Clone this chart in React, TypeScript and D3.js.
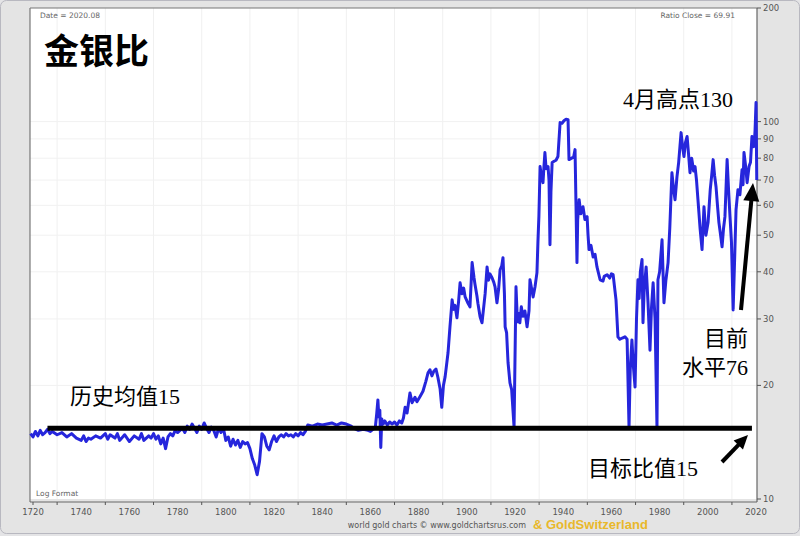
import React from "react";
import * as d3 from "d3";

const years: number[] = [
  1719, 1720, 1721, 1722, 1723, 1724, 1725, 1726, 1727, 1728, 1730, 1732, 1734, 1736, 1738,
  1740, 1741, 1742, 1743, 1744, 1746, 1748, 1750, 1751, 1752, 1754, 1755, 1756, 1758, 1759,
  1760, 1762, 1764, 1765, 1766, 1768, 1769, 1770, 1771, 1772, 1773, 1774, 1775, 1776, 1777,
  1778, 1779, 1780, 1782, 1783, 1784, 1785, 1786, 1787, 1788, 1789, 1790, 1791, 1792, 1793,
  1794, 1795, 1796, 1797, 1798, 1799, 1800, 1801, 1802, 1803, 1804, 1805, 1806, 1807, 1808,
  1809, 1810, 1811, 1812, 1813, 1814, 1815, 1816, 1817, 1818, 1819, 1820, 1821, 1822, 1823,
  1824, 1825, 1826, 1827, 1828, 1829, 1830, 1831, 1832, 1833, 1834, 1836, 1838, 1840, 1842,
  1844, 1846, 1848, 1850, 1852, 1853, 1855, 1857, 1859, 1860, 1861, 1862, 1862.6, 1863.1,
  1863.5, 1863.9, 1864.3, 1864.7, 1865.3, 1866, 1867, 1868, 1869, 1870, 1871, 1872, 1873,
  1873.7, 1874.4, 1875.2, 1876.4, 1877.3, 1878.5, 1879.3, 1880.6, 1881.8, 1883, 1883.9,
  1884.7, 1885.5, 1886.3, 1887.2, 1888, 1888.9, 1889.6, 1890.3, 1891, 1892.2, 1893, 1893.9,
  1894.5, 1895.1, 1895.9, 1896.6, 1897.2, 1898, 1898.7, 1899.3, 1900.5, 1901.3, 1902.2, 1903,
  1903.4, 1904.2, 1904.6, 1905.5, 1906.3, 1907.6, 1908.4, 1909, 1909.6, 1910.5, 1911.2, 1911.7,
  1912.5, 1913.2, 1913.8, 1914.5, 1915, 1915.6, 1915.9, 1916.5, 1917.1, 1917.9, 1918.6, 1919.6,
  1920.4, 1921, 1921.5, 1922, 1922.6, 1923.3, 1924.1, 1925, 1925.8, 1926.2, 1926.9, 1927.5,
  1928.3, 1929.1, 1929.5, 1929.9, 1930.4, 1930.9, 1931.6, 1932, 1932.4, 1932.9, 1933.7, 1934.1,
  1934.5, 1934.9, 1935.4, 1936.2, 1937, 1937.8, 1938.7, 1939.5, 1940.3, 1941.2, 1942, 1942.4,
  1943.5, 1944.3, 1944.9, 1945.3, 1945.7, 1946, 1946.6, 1947.3, 1948.2, 1949, 1949.9, 1950.3,
  1950.7, 1951.5, 1952.4, 1953.2, 1954, 1955.3, 1956.5, 1957, 1958.2, 1959.3, 1960, 1960.7,
  1961.9, 1962.7, 1963.5, 1964.5, 1965.6, 1966.5, 1967.3, 1967.8, 1968.5, 1969.1, 1969.8,
  1970.4, 1971, 1971.5, 1972, 1972.7, 1973.1, 1973.6, 1974.4, 1975.2, 1976, 1976.6, 1977.3,
  1978.1, 1978.9, 1979.3, 1980, 1981, 1981.8, 1982.6, 1983.5, 1984.2, 1985.1, 1985.8, 1986.4,
  1987.2, 1987.9, 1988.9, 1989.5, 1990.1, 1990.7, 1991.4, 1992, 1992.6, 1993.3, 1994.1, 1994.7,
  1995.3, 1995.9, 1996.8, 1997.6, 1998.4, 1999.2, 2000.1, 2001, 2001.6, 2002.2, 2002.8, 2003.4,
  2004, 2004.6, 2005.3, 2005.9, 2006.5, 2007.1, 2008, 2008.6, 2009.2, 2009.8, 2010.5, 2011.2,
  2011.7, 2012.5, 2013.3, 2014.2, 2014.6, 2015, 2015.7, 2016.3, 2017.1, 2017.7, 2018.3, 2018.8,
  2019.2, 2019.6, 2020.0, 2020.3,
];

const ratios: number[] = [
  14.9, 14.6, 15.1, 14.7, 15.2, 14.8, 15.0, 15.3, 14.9, 15.1, 14.8, 15.0, 14.6, 14.9, 14.5,
  14.3, 14.7, 14.2, 14.5, 14.4, 14.7, 14.5, 14.9, 14.4, 14.8, 14.5, 14.9, 14.3, 14.8, 14.5,
  14.2, 14.7, 14.4, 14.9, 14.3, 14.7, 14.5, 14.9, 14.4, 14.7, 14.0, 14.5, 13.6, 14.6, 14.9,
  14.7, 15.2, 15.0, 15.4, 15.0, 15.6, 15.3, 15.8, 15.4, 15.0, 15.6, 15.3, 15.9, 15.4, 15.0,
  15.5, 15.2, 14.6, 15.4, 15.0, 15.4, 14.3, 14.6, 13.8, 14.4, 13.9, 14.3, 13.7, 14.2, 14.0,
  14.1, 13.6, 12.8, 12.3, 11.6, 12.6, 14.9, 14.6, 13.8, 13.5, 14.2, 14.7, 14.2, 14.6, 14.8,
  14.6, 14.9, 14.7, 14.8, 14.6, 14.9, 14.7, 15.0, 14.8, 15.1, 15.7, 15.6, 15.8, 15.7, 15.8,
  15.9, 15.7, 15.9, 15.8, 15.6, 15.4, 15.2, 15.3, 15.2, 15.1, 15.3, 15.4, 16.8, 18.3,
  16.5, 17.2, 13.7, 16.3, 15.8, 16.1, 15.7, 16.0, 15.8, 16.0, 15.7, 16.1, 15.9,
  16.4, 17.5, 16.9, 19.1, 18.0, 18.6, 18.1, 18.7, 19.3, 20.5, 21.6,
  22.0, 21.2, 21.8, 22.1, 21.0, 19.6, 17.5, 20.0, 21.1, 24.4, 28.6, 33.7,
  31.8, 32.6, 30.2, 33.5, 37.4, 35.0, 36.2, 34.3, 33.0, 32.3, 42.3, 38.5,
  37.0, 34.5, 33.0, 30.4, 29.3, 35.0, 41.2, 38.0, 39.5, 38.5, 37.5, 36.5,
  33.1, 36.0, 40.5, 41.5, 43.6, 35.0, 28.6, 27.6, 23.0, 20.3, 19.5, 15.5,
  36.5, 29.5, 31.0, 29.3, 32.3, 30.5, 31.5, 28.6, 31.5, 38.1, 36.0, 34.3,
  36.5, 39.8, 48.0, 56.0, 76.0, 72.0, 68.9, 76.0, 82.8, 75.0, 76.0, 70.0,
  47.2, 65.0, 77.9, 78.5, 79.0, 80.8, 99.4, 99.0, 100.5, 101.5, 101.2, 79.3,
  80.0, 80.5, 84.3, 60.0, 42.3, 55.0, 62.1, 57.0, 59.5, 55.0, 56.0, 50.0,
  45.8, 47.0, 43.8, 44.5, 41.2, 38.1, 37.8, 38.9, 39.3, 38.5, 39.5, 39.3,
  33.7, 26.9, 26.5, 26.7, 26.9, 26.5, 15.5, 22.0, 26.4, 22.5, 19.8,
  30.0, 38.1, 34.0, 40.0, 43.1, 29.3, 36.0, 41.2, 33.0, 24.8, 32.0, 37.4,
  30.0, 15.5, 38.1, 40.0, 48.6, 33.1, 38.0, 42.3, 52.0, 73.2, 66.0, 62.1,
  71.5, 78.0, 93.5, 86.0, 80.8, 88.0, 91.3, 82.0, 73.2, 80.0, 74.0, 76.0,
  70.0, 62.1, 52.0, 45.8, 59.5, 50.0, 54.0, 66.0, 72.0, 79.3, 72.0, 67.2,
  60.0, 54.0, 50.0, 46.6, 52.0, 56.0, 79.3, 66.0, 56.0, 48.0, 31.7, 45.0,
  58.4, 66.0, 64.0, 74.6, 68.0, 82.8, 76.0, 68.9, 76.0, 78.0, 91.3, 85.8,
  86.0, 95.0, 112.3, 70.0,
];

const yTickValues: number[] = [10, 20, 30, 40, 50, 60, 70, 80, 90, 100, 200];
const xLabelYears: number[] = [1720, 1740, 1760, 1780, 1800, 1820, 1840, 1860, 1880, 1900, 1920, 1940, 1960, 1980, 2000, 2020];
const xTickYears: number[] = [1730, 1750, 1770, 1790, 1810, 1830, 1850, 1870, 1890, 1910, 1930, 1950, 1970, 1990, 2010];

const avgLineValue = 15.4;
const avgLineStart = 1726;
const avgLineEnd = 2018.3;

const title = "金银比";
const peakLabel = "4月高点130";
const currentLabel1 = "目前";
const currentLabel2 = "水平76";
const histLabel = "历史均值15";
const targetLabel = "目标比值15";

export default function App() {
  const W = 800;
  const H = 536;
  const left = 30, right = 757, top = 8, bottom = 499;
  const x = d3.scaleLinear().domain([1718.75, 2020.4]).range([left, right]);
  const y = d3.scaleLog().domain([10, 200]).range([bottom, top]);

  const data = years.map((yr, i) => [yr, ratios[i]] as [number, number]);
  const line = d3
    .line<[number, number]>()
    .x((d) => x(d[0]))
    .y((d) => y(d[1]));

  const cjk = "'Liberation Serif', 'Noto Sans CJK SC', serif";
  const axisFont = "'DejaVu Sans', sans-serif";

  const arrow = (x1: number, y1: number, x2: number, y2: number, hl: number, hw: number, sw: number) => {
    const dx = x2 - x1, dy = y2 - y1;
    const len = Math.sqrt(dx * dx + dy * dy);
    const ux = dx / len, uy = dy / len;
    const bx = x2 - ux * hl, by = y2 - uy * hl;
    const px = -uy, py = ux;
    const pts = `${x2},${y2} ${bx + px * hw / 2},${by + py * hw / 2} ${bx - px * hw / 2},${by - py * hw / 2}`;
    return (
      <g>
        <line x1={x1} y1={y1} x2={bx + ux * 2} y2={by + uy * 2} stroke="#000" strokeWidth={sw} />
        <polygon points={pts} fill="#000" />
      </g>
    );
  };

  return (
    <svg width={W} height={H} style={{ position: "absolute", left: 0, top: 0 }}>
      <rect x={0} y={0} width={W} height={H} fill="#e4e4e6" />
      <rect x={0.5} y={0.5} width={W - 1} height={H - 3} rx={6} fill="#e4e4e4" stroke="#b8b8c0" />
      <rect x={left} y={top} width={right - left} height={bottom - top} fill="#ffffff" />
      {/* gridlines */}
      {xTickYears.map((yr) => (
        <line key={"gx" + yr} x1={x(yr)} x2={x(yr)} y1={top} y2={bottom} stroke="#f0f0f0" strokeWidth={1} />
      ))}
      {yTickValues.filter((v) => v > 10 && v < 200).map((v) => (
        <line key={"gy" + v} x1={left} x2={right} y1={y(v)} y2={y(v)} stroke="#f1f1f1" strokeWidth={1} />
      ))}
      {/* frame */}
      <line x1={left} x2={left} y1={top} y2={bottom + 3} stroke="#777" strokeWidth={1.2} />
      <line x1={left} x2={right} y1={top} y2={top} stroke="#777" strokeWidth={1.2} />
      <line x1={right} x2={right} y1={top} y2={bottom + 3} stroke="#666" strokeWidth={1.2} />
      <line x1={left} x2={right} y1={bottom + 3} y2={bottom + 3} stroke="#666" strokeWidth={1.2} />
      {/* y ticks */}
      {yTickValues.map((v) => (
        <g key={"yt" + v}>
          <line x1={right} x2={right + 4} y1={y(v)} y2={y(v)} stroke="#555" />
          <text x={right + 6} y={y(v) + 3} fontSize={8.5} fill="#555" fontFamily={axisFont}>
            {v}
          </text>
        </g>
      ))}
      {/* x ticks */}
      {[1720, ...xTickYears].map((yr) => (
        <line key={"xt" + yr} x1={x(yr)} x2={x(yr)} y1={bottom + 3} y2={bottom + 6} stroke="#555" />
      ))}
      {xLabelYears.map((yr) => (
        <text key={"xl" + yr} x={x(yr)} y={515} fontSize={8.5} fill="#555" textAnchor="middle" fontFamily={axisFont}>
          {yr}
        </text>
      ))}
      {/* series */}
      <path d={line(data) || ""} fill="none" stroke="#2626dc" strokeWidth={3} strokeLinejoin="round" />
      {/* average line */}
      <line x1={x(avgLineStart)} x2={x(avgLineEnd)} y1={y(avgLineValue)} y2={y(avgLineValue)} stroke="#000" strokeWidth={5} />
      {/* small texts */}
      <text x={40} y={18} fontSize={7.5} fill="#666" fontFamily={axisFont}>Date = 2020.08</text>
      <text x={735} y={18} fontSize={7.5} fill="#666" textAnchor="end" fontFamily={axisFont}>Ratio Close = 69.91</text>
      <text x={36} y={496} fontSize={7.5} fill="#666" fontFamily={axisFont}>Log Format</text>
      <text x={526} y={528} fontSize={8} fill="#555" textAnchor="end" fontFamily={axisFont}>world gold charts © www.goldchartsrus.com</text>
      <text x={533} y={529} fontSize={13} fontWeight="bold" fill="#e9b82a" fontFamily="'Liberation Sans', Arial, sans-serif">& GoldSwitzerland</text>
      {/* title & annotations */}
      <text x={44} y={64} fontSize={35} fontWeight="bold" fill="#000" fontFamily="'Noto Sans CJK SC', sans-serif">{title}</text>
      <text x={623} y={107} fontSize={22} fill="#000" fontFamily={cjk}>{peakLabel}</text>
      <text x={748} y={346} fontSize={22} fill="#000" textAnchor="end" fontFamily={cjk}>{currentLabel1}</text>
      <text x={748} y={375} fontSize={22} fill="#000" textAnchor="end" fontFamily={cjk}>{currentLabel2}</text>
      <text x={70} y={404} fontSize={22} fill="#000" fontFamily={cjk}>{histLabel}</text>
      <text x={588} y={476} fontSize={22} fill="#000" fontFamily={cjk}>{targetLabel}</text>
      {arrow(741, 310, 753, 183, 18, 16, 4)}
      {arrow(722, 462, 748, 435, 14, 13, 4)}
    </svg>
  );
}
